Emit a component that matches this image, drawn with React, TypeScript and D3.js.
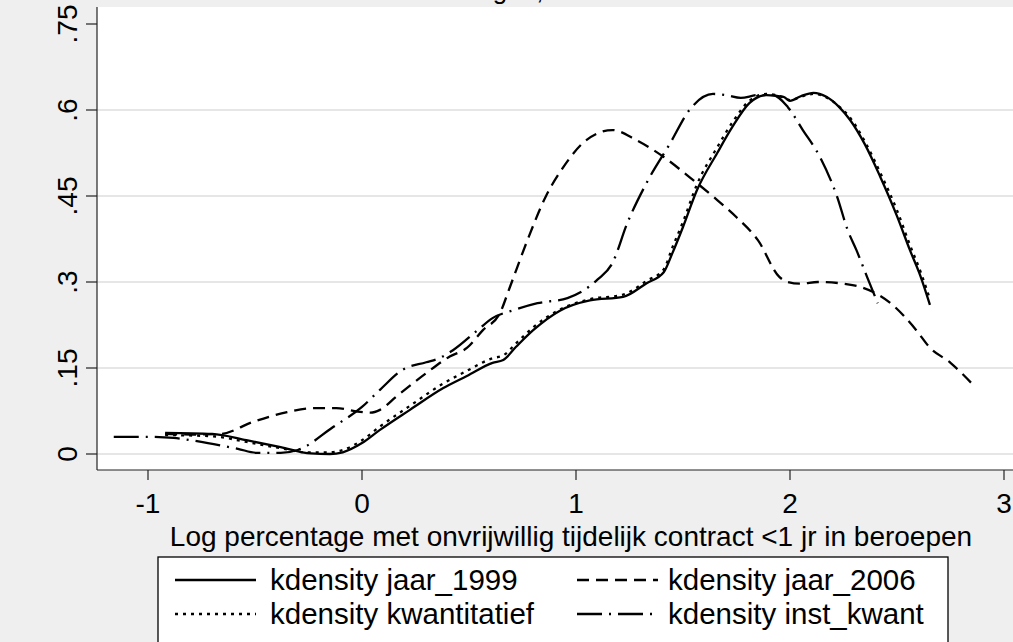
import React from "react";
import * as d3 from "d3";

// ---- data ----
const x1999 = [-0.92, -0.70, -0.54, -0.38, -0.24, -0.15, -0.09, 0, 0.084, 0.224, 0.38, 0.49, 0.61, 0.66, 0.72, 0.80, 0.925, 1.065, 1.22, 1.33, 1.41, 1.45, 1.50, 1.565, 1.66, 1.73, 1.81, 1.89, 1.97, 2.0, 2.05, 2.11, 2.17, 2.23, 2.28, 2.35, 2.42, 2.50, 2.56, 2.61, 2.654];
const y1999 = [0.037, 0.035, 0.024, 0.012, 0.001, 0.0, 0.003, 0.019, 0.042, 0.077, 0.115, 0.136, 0.159, 0.164, 0.187, 0.216, 0.250, 0.268, 0.274, 0.298, 0.317, 0.35, 0.396, 0.46, 0.525, 0.57, 0.612, 0.626, 0.623, 0.616, 0.624, 0.63, 0.623, 0.605, 0.583, 0.54, 0.485, 0.415, 0.356, 0.31, 0.26];

const xKwant = [-0.92, -0.70, -0.54, -0.38, -0.26, -0.15, -0.09, 0, 0.084, 0.224, 0.38, 0.49, 0.61, 0.66, 0.72, 0.80, 0.925, 1.065, 1.22, 1.33, 1.41, 1.45, 1.50, 1.565, 1.66, 1.73, 1.81, 1.89, 1.97, 2.0, 2.05, 2.11, 2.17, 2.23, 2.28, 2.35, 2.42, 2.50, 2.56, 2.61, 2.654];
const yKwant = [0.033, 0.031, 0.021, 0.010, 0.003, 0.003, 0.007, 0.024, 0.048, 0.084, 0.123, 0.145, 0.167, 0.172, 0.193, 0.221, 0.252, 0.27, 0.278, 0.302, 0.322, 0.36, 0.405, 0.47, 0.535, 0.578, 0.616, 0.628, 0.622, 0.617, 0.623, 0.628, 0.622, 0.606, 0.587, 0.545, 0.492, 0.425, 0.365, 0.318, 0.27];

const x2006 = [-0.92, -0.80, -0.66, -0.51, -0.35, -0.23, -0.12, -0.02, 0.04, 0.084, 0.16, 0.30, 0.41, 0.49, 0.565, 0.645, 0.69, 0.77, 0.86, 0.94, 1.05, 1.17, 1.28, 1.41, 1.53, 1.66, 1.75, 1.85, 1.95, 1.99, 2.05, 2.13, 2.27, 2.34, 2.47, 2.59, 2.65, 2.75, 2.86];
const y2006 = [0.035, 0.034, 0.035, 0.056, 0.073, 0.08, 0.08, 0.074, 0.072, 0.077, 0.10, 0.141, 0.17, 0.185, 0.216, 0.246, 0.29, 0.37, 0.45, 0.50, 0.548, 0.565, 0.548, 0.518, 0.483, 0.443, 0.413, 0.373, 0.309, 0.30, 0.297, 0.30, 0.296, 0.29, 0.263, 0.216, 0.187, 0.159, 0.119];

const xInst = [-1.16, -1.0, -0.88, -0.72, -0.58, -0.49, -0.38, -0.30, -0.135, 0, 0.084, 0.19, 0.30, 0.36, 0.425, 0.54, 0.61, 0.71, 0.82, 0.96, 1.10, 1.17, 1.24, 1.33, 1.44, 1.53, 1.64, 1.70, 1.77, 1.85, 1.92, 1.99, 2.06, 2.14, 2.22, 2.27, 2.31, 2.36, 2.41];
const yInst = [0.030, 0.030, 0.028, 0.019, 0.009, 0.002, 0.002, 0.007, 0.047, 0.082, 0.112, 0.147, 0.16, 0.167, 0.181, 0.216, 0.237, 0.251, 0.263, 0.272, 0.304, 0.333, 0.403, 0.473, 0.542, 0.60, 0.628, 0.626, 0.621, 0.626, 0.626, 0.605, 0.565, 0.518, 0.449, 0.39, 0.356, 0.309, 0.263];

const xTicks = [-1, 0, 1, 2, 3];
const yTicks = [0, 0.15, 0.3, 0.45, 0.6, 0.75];
const yTickLabels = ["0", ".15", ".3", ".45", ".6", ".75"];
const gridValues = [0, 0.15, 0.3, 0.45, 0.6];

const titleText = "Kerndichtheid schattingen, 1999 en 2006";
const xTitle = "Log percentage met onvrijwillig tijdelijk contract <1 jr in beroepen";

const seriesNames = ["kdensity jaar_1999", "kdensity jaar_2006", "kdensity kwantitatief", "kdensity inst_kwant"];

// ---- layout ----
const W = 1013;
const H = 642;
const FONT = "'Liberation Sans', Arial, Helvetica, sans-serif";
const plotLeft = 97;
const plotTop = 7;
const plotBottom = 470;

const xScale = d3.scaleLinear().domain([-1, 3]).range([148, 1004]);
const yScale = d3.scaleLinear().domain([0, 0.75]).range([454, 24]);

const dashStyles: Record<string, string | undefined> = {
  solid: undefined,
  dash: "12,7",
  dot: "3,5",
  dashdot: "25,7,2,7",
};

const series = [
  { name: seriesNames[0], xs: x1999, ys: y1999, style: "solid" },
  { name: seriesNames[1], xs: x2006, ys: y2006, style: "dash" },
  { name: seriesNames[2], xs: xKwant, ys: yKwant, style: "dot" },
  { name: seriesNames[3], xs: xInst, ys: yInst, style: "dashdot" },
];

const lineGen = d3
  .line<[number, number]>()
  .x((d) => xScale(d[0]))
  .y((d) => yScale(d[1]))
  .curve(d3.curveMonotoneX);

export default function App() {
  const legendLeft = 158;
  const legendRight = 948;
  const legendTop = 557;
  const colX = [175, 577];
  const textX = [270, 668];
  const rowY = [580, 614];
  const keyLen = 81;
  const legendOrder = [
    { s: series[0], col: 0, row: 0 },
    { s: series[1], col: 1, row: 0 },
    { s: series[2], col: 0, row: 1 },
    { s: series[3], col: 1, row: 1 },
  ];

  return (
    <svg
      width={W}
      height={H}
      style={{ position: "absolute", left: 0, top: 0, display: "block" }}
      fontFamily={FONT}
    >
      <rect x={0} y={0} width={W} height={H} fill="#efefef" />
      {/* cropped title */}
      <text x={237} y={-1} fontSize={26} fill="#000">
        {titleText}
      </text>
      {/* plot region */}
      <rect x={plotLeft} y={plotTop} width={W - plotLeft} height={plotBottom - plotTop} fill="#ffffff" />
      {gridValues.map((v) => (
        <line
          key={"g" + v}
          x1={plotLeft}
          x2={W}
          y1={yScale(v)}
          y2={yScale(v)}
          stroke="#e6e6e6"
          strokeWidth={2}
        />
      ))}
      {/* curves */}
      {series.map((s) => (
        <path
          key={s.name}
          d={lineGen(s.xs.map((x, i) => [x, s.ys[i]] as [number, number])) || ""}
          fill="none"
          stroke="#000"
          strokeWidth={2.3}
          strokeDasharray={dashStyles[s.style]}
          strokeLinejoin="round"
        />
      ))}
      {/* axes */}
      <line x1={plotLeft} x2={plotLeft} y1={plotTop} y2={plotBottom} stroke="#222" strokeWidth={1.2} />
      <line x1={plotLeft} x2={W} y1={plotBottom} y2={plotBottom} stroke="#222" strokeWidth={1.2} />
      {yTicks.map((v, i) => (
        <g key={"yt" + v}>
          <line x1={86} x2={plotLeft} y1={yScale(v)} y2={yScale(v)} stroke="#222" strokeWidth={1.2} />
          <text
            transform={`translate(77,${yScale(v)}) rotate(-90)`}
            textAnchor="middle"
            fontSize={28}
            fill="#000"
          >
            {yTickLabels[i]}
          </text>
        </g>
      ))}
      {xTicks.map((v) => (
        <g key={"xt" + v}>
          <line x1={xScale(v)} x2={xScale(v)} y1={plotBottom} y2={480} stroke="#222" strokeWidth={1.2} />
          <text x={xScale(v)} y={513} textAnchor="middle" fontSize={28} fill="#000">
            {v}
          </text>
        </g>
      ))}
      <text x={571} y={546} textAnchor="middle" fontSize={28} fill="#000">
        {xTitle}
      </text>
      {/* legend */}
      <rect
        x={legendLeft}
        y={legendTop}
        width={legendRight - legendLeft}
        height={120}
        fill="#ffffff"
        stroke="#000"
        strokeWidth={1.3}
      />
      {legendOrder.map(({ s, col, row }) => (
        <g key={"lg" + s.name}>
          <line
            x1={colX[col]}
            x2={colX[col] + keyLen}
            y1={rowY[row]}
            y2={rowY[row]}
            stroke="#000"
            strokeWidth={2.3}
            strokeDasharray={dashStyles[s.style]}
          />
          <text x={textX[col]} y={rowY[row] + 10} fontSize={29.5} fill="#000">
            {s.name}
          </text>
        </g>
      ))}
    </svg>
  );
}
